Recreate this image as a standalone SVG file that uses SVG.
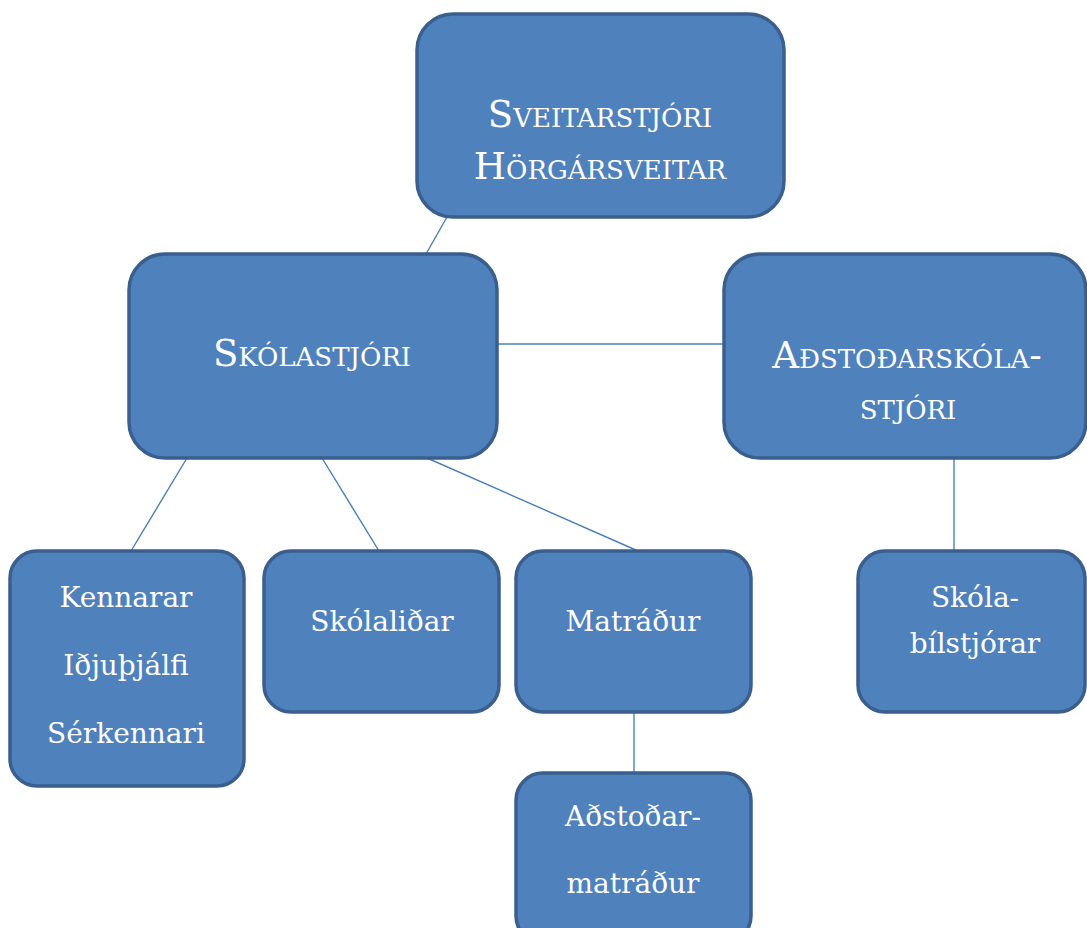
<svg xmlns="http://www.w3.org/2000/svg" width="1087" height="928" viewBox="0 0 1087 928">
<style>
.box{fill:#4F81BD;stroke:#3A5F8E;stroke-width:3.5}
.t{fill:#FFFFFF;font-family:"DejaVu Serif","Liberation Serif",serif;text-anchor:middle}
.sc{font-size:37px;font-variant:small-caps}
.n{font-size:28px}
.c{stroke:#4A7EBB;stroke-width:1.4;fill:none}
</style>
<rect width="1087" height="928" fill="#FFFFFF"/>
<g id="connectors">
<line class="c" x1="447" y1="217" x2="426" y2="254"/>
<line class="c" x1="497" y1="344" x2="724" y2="344"/>
<line class="c" x1="187" y1="458" x2="131" y2="551"/>
<line class="c" x1="322" y1="458" x2="379" y2="551"/>
<line class="c" x1="427" y1="458" x2="638" y2="551"/>
<line class="c" x1="634" y1="712" x2="634" y2="773"/>
<line class="c" x1="954" y1="458" x2="954" y2="551"/>
</g>
<g id="sveitarstjori">
<rect class="box" x="417" y="14" width="367" height="203" rx="36"/>
<text class="t sc" x="600" y="127">Sveitarstjóri</text>
<text class="t sc" x="600" y="179">Hörgársveitar</text>
</g>
<g id="skolastjori">
<rect class="box" x="129" y="254" width="368" height="204" rx="36"/>
<text class="t sc" x="312" y="366">Skólastjóri</text>
</g>
<g id="adstodarskolastjori">
<rect class="box" x="724" y="254" width="362" height="204" rx="36"/>
<text class="t sc" x="907" y="368">Aðstoðarskóla-</text>
<text class="t sc" x="908" y="419">stjóri</text>
</g>
<g id="kennarar">
<rect class="box" x="10" y="551" width="234" height="235" rx="27"/>
<text class="t n" x="126" y="607">Kennarar</text>
<text class="t n" x="126" y="675">Iðjuþjálfi</text>
<text class="t n" x="126" y="743">Sérkennari</text>
</g>
<g id="skolalidar">
<rect class="box" x="264" y="551" width="235" height="161" rx="27"/>
<text class="t n" x="382" y="631">Skólaliðar</text>
</g>
<g id="matradur">
<rect class="box" x="516" y="551" width="235" height="161" rx="27"/>
<text class="t n" x="633" y="631">Matráður</text>
</g>
<g id="adstodarmatradur">
<rect class="box" x="516" y="773" width="235" height="170" rx="27"/>
<text class="t n" x="633" y="826">Aðstoðar-</text>
<text class="t n" x="633" y="893">matráður</text>
</g>
<g id="skolabilstjorar">
<rect class="box" x="858" y="551" width="227" height="161" rx="27"/>
<text class="t n" x="975" y="607">Skóla-</text>
<text class="t n" x="975" y="653">bílstjórar</text>
</g>
</svg>
